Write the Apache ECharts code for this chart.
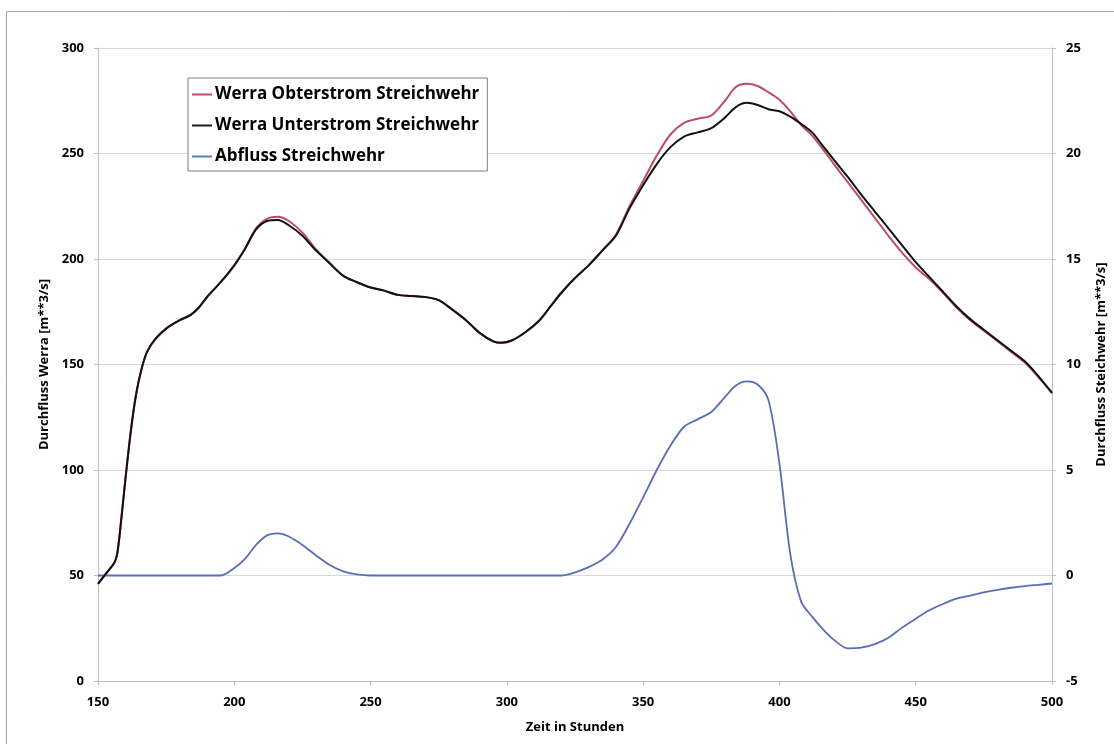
<!DOCTYPE html>
<html>
<head>
<meta charset="utf-8">
<script src="https://cdn.jsdelivr.net/npm/echarts@6/dist/echarts.min.js"></script>
<style>
  html, body { margin: 0; padding: 0; background: #ffffff; }
  #chart { width: 1114px; height: 744px; }
</style>
</head>
<body>
<div id="chart"></div>
<script>
// Time axis (hours) shared by all three series
const hours = [
  150, 153, 156, 157, 158, 160, 162, 164, 166, 168, 171, 175, 180, 184, 187, 190, 195,
  200, 204, 208, 212, 216, 220, 225, 230, 235, 240, 245, 250, 255, 260, 265, 270, 275,
  280, 285, 290, 295, 298, 302, 307, 312, 316, 320, 325, 330, 335, 340, 345, 350, 355,
  360, 365, 370, 375, 380, 384, 388, 392, 396, 400, 404, 408, 412, 416, 420, 425, 430,
  435, 440, 445, 450, 455, 460, 465, 470, 475, 480, 485, 490, 495, 500
];

// Werra discharge upstream of the weir [m**3/s]
const oberstrom = [
  46, 51, 56, 60, 70, 95, 118, 136, 148, 156, 162, 167, 171, 173.5, 177, 182, 189,
  197, 205, 214.5, 219, 220, 218, 212.5, 204.5, 198, 192, 189, 186.5, 185, 183, 182.5, 182, 180.5,
  176, 171, 165, 161, 160.3, 161.5, 165.5, 171, 177.5, 184, 191, 197, 204, 211.5, 225, 237, 249,
  259, 264.5, 266.5, 268, 275, 281.5, 283, 282, 279, 275.5, 270, 263.5, 258.5, 252, 245, 236.5, 228,
  219.5, 211, 203, 196, 190.5, 184, 177, 171, 166, 161, 156, 151, 144, 136.5
];

// Werra discharge downstream of the weir [m**3/s]
const unterstrom = [
  46, 51, 56, 60, 70, 95, 118, 136, 148, 156, 162, 167, 171, 173.5, 177, 182, 189,
  197, 205, 214, 218, 218.5, 216, 211, 204, 198, 192, 189, 186.5, 185, 183, 182.5, 182, 180.5,
  176, 171, 165, 161, 160.3, 161.5, 165.5, 171, 177.5, 184, 191, 197, 204, 211, 224, 235, 245,
  253, 258, 260, 262, 267, 272, 274, 273, 271, 270, 267.5, 264, 260, 253.5, 247, 239, 230.5,
  222.5, 214.5, 206.5, 198.5, 191.5, 184.5, 177.5, 171.5, 166.5, 161.5, 156.5, 151.5, 144.5, 136.5
];

// Weir discharge [m**3/s], right axis
const abfluss = [
  0, 0, 0, 0, 0, 0, 0, 0, 0, 0, 0, 0, 0, 0, 0, 0, 0,
  0.35, 0.8, 1.45, 1.9, 2.0, 1.85, 1.45, 0.95, 0.5, 0.2, 0.05, 0, 0, 0, 0, 0, 0,
  0, 0, 0, 0, 0, 0, 0, 0, 0, 0, 0.15, 0.4, 0.75, 1.35, 2.45, 3.7, 5.0,
  6.15, 7.05, 7.4, 7.75, 8.45, 9.0, 9.2, 9.05, 8.3, 5.3, 1.0, -1.25, -1.95, -2.55, -3.05, -3.45, -3.42,
  -3.25, -2.95, -2.47, -2.05, -1.65, -1.35, -1.1, -0.95, -0.8, -0.68, -0.58, -0.5, -0.44, -0.38
];

const seriesNames = [
  'Werra Obterstrom Streichwehr',
  'Werra Unterstrom Streichwehr',
  'Abfluss Streichwehr'
];

const pair = (xs, ys) => xs.map((x, i) => [x, ys[i]]);

const FONT = '"Open Sans", "Noto Sans", sans-serif';
const labelStyle = { color: '#000', fontWeight: 'bold', fontSize: 13, fontFamily: FONT };
const gridColor = '#d9d9d9';
const axisColor = '#bfbfbf';

const chart = echarts.init(document.getElementById('chart'), null, { renderer: 'canvas' });

chart.setOption({
  backgroundColor: '#ffffff',
  animation: false,
  graphic: [{
    type: 'rect',
    shape: { x: 6.5, y: 11.5, width: 1300, height: 900 },
    style: { fill: 'none', stroke: '#a6a6a6', lineWidth: 1 },
    silent: true,
    z: -10
  }],
  grid: { left: 98, right: 62, top: 48, bottom: 63, containLabel: false, outerBoundsMode: 'none' },
  legend: {
    orient: 'vertical',
    left: 188,
    top: 78,
    data: seriesNames,
    icon: 'rect',
    itemWidth: 20,
    itemHeight: 2,
    itemGap: 10,
    padding: [6, 8, 4, 4],
    backgroundColor: '#ffffff',
    borderColor: '#7f7f7f',
    borderWidth: 1,
    borderRadius: 0,
    textStyle: { color: '#000', fontWeight: 'bold', fontSize: 17, fontFamily: FONT, padding: [0, 0, 0, -2], lineHeight: 21 }
  },
  xAxis: {
    type: 'value',
    min: 150,
    max: 500,
    interval: 50,
    name: 'Zeit in Stunden',
    nameLocation: 'middle',
    nameGap: 40,
    nameTextStyle: { color: '#000', fontWeight: 'bold', fontSize: 13, fontFamily: FONT },
    axisLine: { show: true, onZero: false, lineStyle: { color: axisColor, width: 1 } },
    axisTick: { show: true, length: 4, lineStyle: { color: axisColor } },
    axisLabel: Object.assign({ margin: 15 }, labelStyle),
    splitLine: { show: false }
  },
  yAxis: [{
    type: 'value',
    position: 'left',
    min: 0,
    max: 300,
    interval: 50,
    name: 'Durchfluss Werra [m**3/s]',
    nameLocation: 'middle',
    nameGap: 41,
    nameTextStyle: { color: '#000', fontWeight: 'bold', fontSize: 13, fontFamily: FONT },
    axisLine: { show: true, lineStyle: { color: axisColor, width: 1 } },
    axisTick: { show: true, length: 4, lineStyle: { color: axisColor } },
    axisLabel: Object.assign({ margin: 14 }, labelStyle),
    splitLine: { show: true, lineStyle: { color: gridColor, width: 1 } }
  }, {
    type: 'value',
    position: 'right',
    min: -5,
    max: 25,
    interval: 5,
    name: 'Durchfluss Steichwehr [m**3/s]',
    nameLocation: 'middle',
    nameGap: 43,
    nameRotate: 90,
    nameTextStyle: { color: '#000', fontWeight: 'bold', fontSize: 13, fontFamily: FONT },
    axisLine: { show: true, lineStyle: { color: axisColor, width: 1 } },
    axisTick: { show: true, length: 4, lineStyle: { color: axisColor } },
    axisLabel: Object.assign({ margin: 14 }, labelStyle),
    splitLine: { show: false }
  }],
  series: [{
    name: seriesNames[0],
    type: 'line',
    yAxisIndex: 0,
    data: pair(hours, oberstrom),
    showSymbol: false,
    symbol: 'none',
    smooth: 0.3,
    color: '#be4b63',
    lineStyle: { color: '#be4b63', width: 2 },
    z: 2
  }, {
    name: seriesNames[1],
    type: 'line',
    yAxisIndex: 0,
    data: pair(hours, unterstrom),
    showSymbol: false,
    symbol: 'none',
    smooth: 0.3,
    color: '#1a1a1a',
    lineStyle: { color: '#111111', width: 2 },
    z: 3
  }, {
    name: seriesNames[2],
    type: 'line',
    yAxisIndex: 1,
    data: pair(hours, abfluss),
    showSymbol: false,
    symbol: 'none',
    smooth: 0.3,
    color: '#5b7fbe',
    lineStyle: { color: '#5a6db6', width: 1.8 },
    z: 1
  }]
});
</script>
</body>
</html>
